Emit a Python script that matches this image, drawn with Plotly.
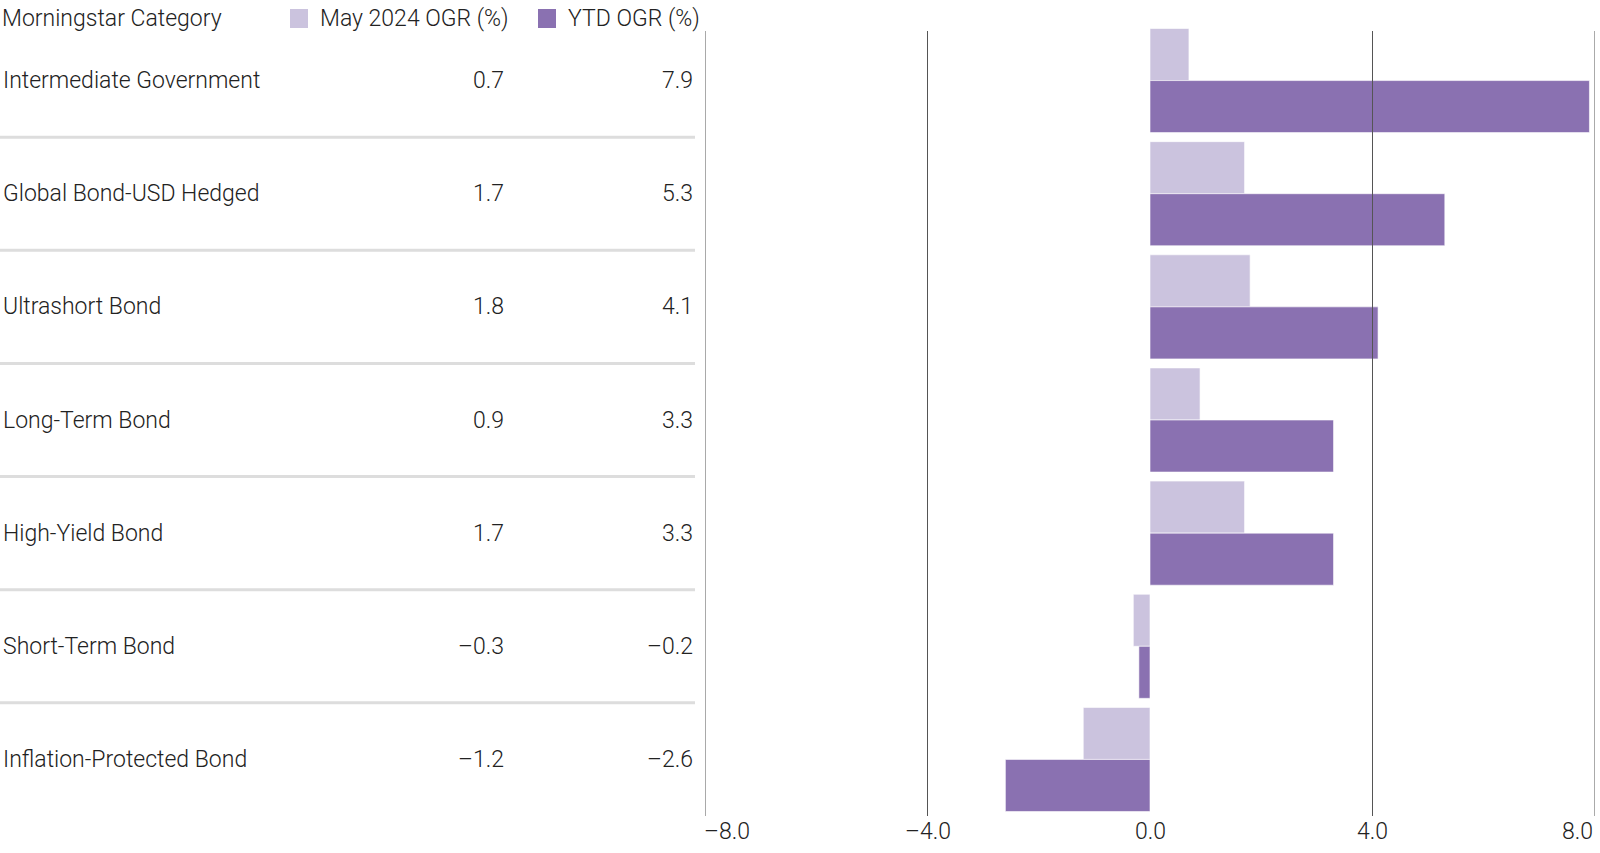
import plotly.graph_objects as go

CATEGORIES = ["Intermediate Government", "Global Bond-USD Hedged", "Ultrashort Bond",
              "Long-Term Bond", "High-Yield Bond", "Short-Term Bond", "Inflation-Protected Bond"]
MAY_OGR = [0.7, 1.7, 1.8, 0.9, 1.7, -0.3, -1.2]
YTD_OGR = [7.9, 5.3, 4.1, 3.3, 3.3, -0.2, -2.6]
SERIES_NAMES = ["May 2024 OGR (%)", "YTD OGR (%)"]
HEADER = "Morningstar Category"
TICK_VALUES = [-8, -4, 0, 4, 8]
TICK_LABELS = ["–8.0", "–4.0", "0.0", "4.0", "8.0"]
GRID_VALUES = [-8, -4, 4, 8]

LIGHT = "#CBC3DE"
DARK = "#8A71B1"
TEXT = "#222222"
FONT = "Roboto, sans-serif"
FS = 23
FW = 300

W, H = 1600, 853
MT, MB = 24, 37
PLOT_H = H - MT - MB


def px_x(px):
    return px / W


def px_y(py):
    return (H - MB - py) / PLOT_H


def fmt(v):
    s = f"{abs(v):.1f}"
    return ("–" + s) if v < 0 else s


def tfont():
    return dict(size=FS, color=TEXT, family=FONT, weight=FW)


fig = go.Figure()
fig.add_trace(go.Bar(y=CATEGORIES, x=MAY_OGR, orientation="h", name=SERIES_NAMES[0],
                     marker=dict(color=LIGHT, line=dict(color="white", width=0.6))))
fig.add_trace(go.Bar(y=CATEGORIES, x=YTD_OGR, orientation="h", name=SERIES_NAMES[1],
                     marker=dict(color=DARK, line=dict(color="white", width=0.6))))

annotations = []
shapes = []

# header
annotations.append(dict(text=HEADER, x=px_x(0), y=px_y(18), xref="paper", yref="paper",
                        xanchor="left", yanchor="middle", showarrow=False, font=tfont()))
legend_specs = [(290, 318, LIGHT, SERIES_NAMES[0]), (538, 566, DARK, SERIES_NAMES[1])]
for sx, tx, col, name in legend_specs:
    shapes.append(dict(type="rect", xref="paper", yref="paper", x0=px_x(sx), x1=px_x(sx + 18),
                       y0=px_y(28), y1=px_y(9), fillcolor=col, line=dict(width=0)))
    annotations.append(dict(text=name, x=px_x(tx), y=px_y(18), xref="paper", yref="paper",
                            xanchor="left", yanchor="middle", showarrow=False, font=tfont()))

# row labels
for i, (cat, m, y) in enumerate(zip(CATEGORIES, MAY_OGR, YTD_OGR)):
    annotations.append(dict(text=cat, x=px_x(1), y=cat, xref="paper", yref="y",
                            xanchor="left", yanchor="middle", showarrow=False, font=tfont()))
    annotations.append(dict(text=fmt(m), x=px_x(506), y=cat, xref="paper", yref="y",
                            xanchor="right", yanchor="middle", showarrow=False, font=tfont()))
    annotations.append(dict(text=fmt(y), x=px_x(695), y=cat, xref="paper", yref="y",
                            xanchor="right", yanchor="middle", showarrow=False, font=tfont()))
    if i < len(CATEGORIES) - 1:
        shapes.append(dict(type="line", xref="paper", yref="y", x0=0, x1=px_x(695),
                           y0=i + 0.5, y1=i + 0.5, line=dict(color="#DDDDDD", width=3)))

for g in GRID_VALUES:
    shapes.append(dict(type="line", xref="x", yref="paper", x0=g, x1=g, y0=0, y1=px_y(31),
                       line=dict(color="#555555", width=1), layer="above"))

# x tick labels (edge labels kept inside the plot width)
for j, (tv, tl) in enumerate(zip(TICK_VALUES, TICK_LABELS)):
    anchor = "left" if j == 0 else ("right" if j == len(TICK_VALUES) - 1 else "center")
    annotations.append(dict(text=tl, x=tv, y=px_y(832), xref="x", yref="paper",
                            xanchor=anchor, yanchor="middle", showarrow=False, font=tfont(),
                            xshift=-3 if j == 0 else 0))

fig.update_layout(
    width=W, height=H,
    margin=dict(l=0, r=0, t=MT, b=MB),
    paper_bgcolor="white", plot_bgcolor="white",
    barmode="group", bargap=0.08, bargroupgap=0,
    showlegend=False,
    font=tfont(),
    xaxis=dict(domain=[px_x(705), px_x(1595)], range=[-8, 8], showgrid=False, zeroline=False,
               tickmode="array", tickvals=TICK_VALUES, showticklabels=False, ticks="",
               fixedrange=True, automargin=False),
    yaxis=dict(autorange="reversed", showticklabels=False, showgrid=False, zeroline=False,
               categoryorder="array", categoryarray=CATEGORIES, automargin=False,
               fixedrange=True),
    annotations=annotations,
    shapes=shapes,
)

fig.write_html("out.html", config={"displayModeBar": False},
               post_script="document.body.style.margin='0';document.body.style.overflow='hidden';")
